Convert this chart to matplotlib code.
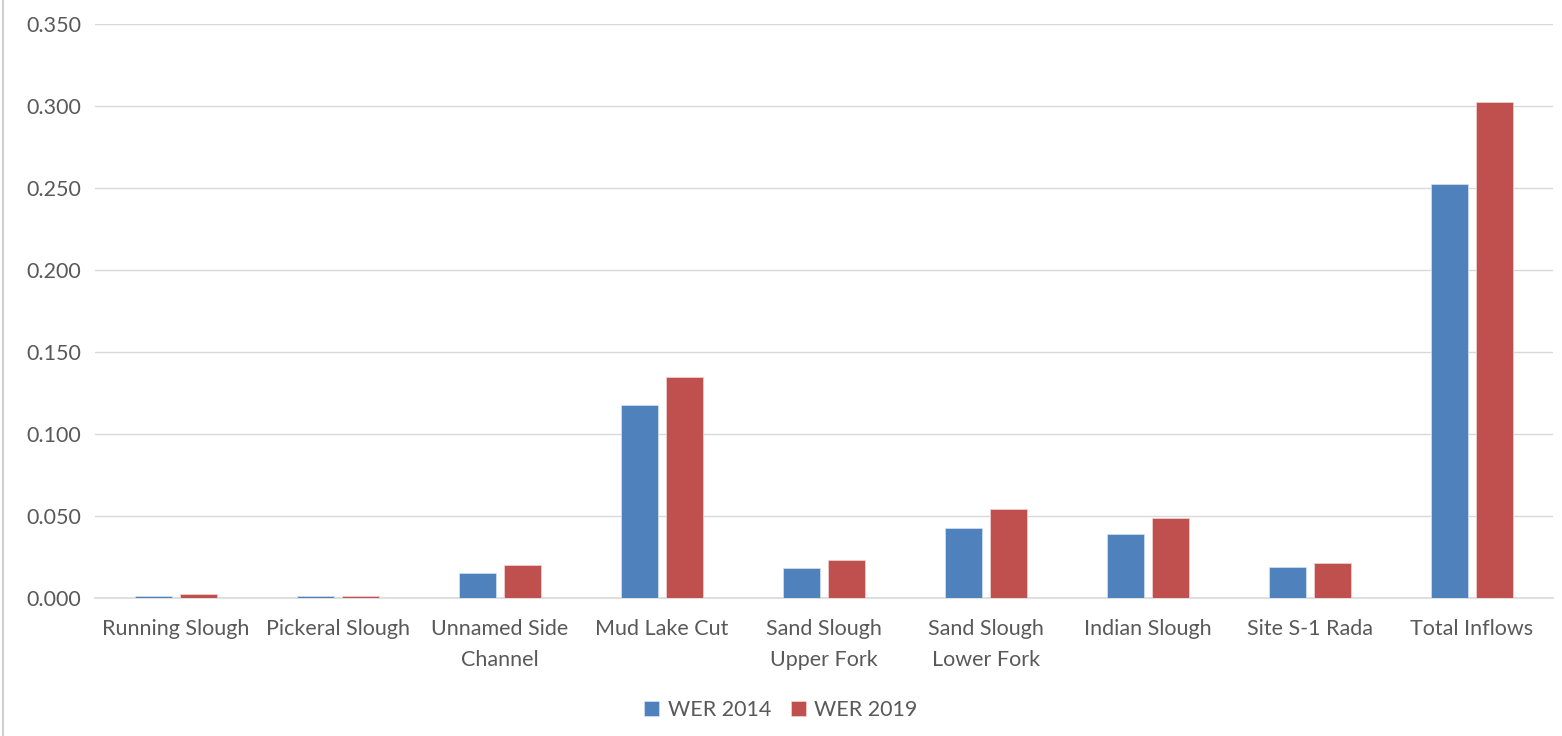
import matplotlib
matplotlib.use("Agg")
import matplotlib.pyplot as plt
from matplotlib.lines import Line2D
import numpy as np

categories = ["Running Slough", "Pickeral Slough", "Unnamed Side\nChannel", "Mud Lake Cut",
              "Sand Slough\nUpper Fork", "Sand Slough\nLower Fork", "Indian Slough",
              "Site S-1 Rada", "Total Inflows"]
wer_2014 = [0.0015, 0.0012, 0.0152, 0.1177, 0.0183, 0.0427, 0.0390, 0.0192, 0.2524]
wer_2019 = [0.0025, 0.0012, 0.0201, 0.1348, 0.0232, 0.0543, 0.0488, 0.0215, 0.3024]
series_labels = ["WER 2014", "WER 2019"]
y_ticks = [0.0, 0.05, 0.10, 0.15, 0.20, 0.25, 0.30, 0.35]

plt.rcParams["font.family"] = ["Lato", "DejaVu Sans"]
text_color = "#595959"
grid_color = "#D9D9D9"

fig = plt.figure(figsize=(15.62, 7.36), dpi=100)
ax = fig.add_axes([95 / 1562, 138 / 736, 1458 / 1562, 574 / 736])

x = np.arange(len(categories))
width = 0.23
offset = 0.14
ax.bar(x - offset, wer_2014, width, color="#4F81BD", edgecolor="#D6E2F0", linewidth=0.5,
       label=series_labels[0], zorder=3)
ax.bar(x + offset, wer_2019, width, color="#C0504D", edgecolor="#F0D6D5", linewidth=0.5,
       label=series_labels[1], zorder=3)

ax.set_xlim(-0.5, len(categories) - 0.5)
ax.set_ylim(0, 0.35)
ax.set_yticks(y_ticks)
ax.set_yticklabels([f"{v:.3f}" for v in y_ticks])
ax.set_xticks(x)
ax.set_xticklabels(categories, linespacing=1.7)

ax.yaxis.grid(True, color=grid_color, linewidth=1.0, zorder=0)
ax.set_axisbelow(True)
for side in ["top", "right", "left"]:
    ax.spines[side].set_visible(False)
ax.spines["bottom"].set_color(grid_color)
ax.spines["bottom"].set_linewidth(1.2)
ax.tick_params(axis="both", length=0, colors=text_color, labelsize=15.5)
ax.tick_params(axis="x", pad=15)
ax.tick_params(axis="y", pad=10)

leg = fig.legend(loc="center", bbox_to_anchor=(0.5, 26 / 736), ncol=2, frameon=False,
                 fontsize=15.5, handlelength=0.7, handleheight=0.7, handletextpad=0.4,
                 columnspacing=0.9)
for t in leg.get_texts():
    t.set_color(text_color)

# thin border along the left edge of the chart area
fig.add_artist(Line2D([3 / 1562, 3 / 1562], [0, 1], transform=fig.transFigure,
                      color="#D0D0D0", linewidth=1.5))

fig.savefig("out.png", dpi=100)
